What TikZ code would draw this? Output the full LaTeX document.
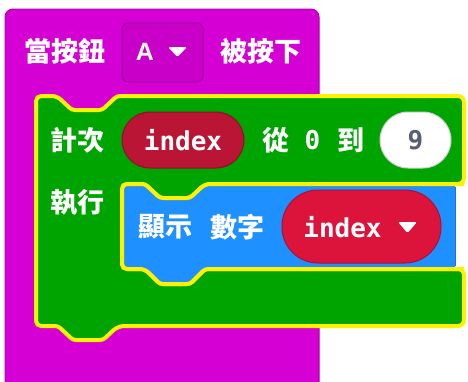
\documentclass[tikz,border=0pt]{standalone}
\usepackage{fontspec}
\newfontfamily\cjk{Noto Sans CJK TC}
\newfontfamily\mono{DejaVu Sans Mono}
\newfontfamily\lsans{Liberation Sans}
\definecolor{magblk}{HTML}{D400D4}
\definecolor{magedge}{HTML}{B000B0}
\definecolor{ddfill}{HTML}{C800C8}
\definecolor{ddedge}{HTML}{A300A3}
\definecolor{grnblk}{HTML}{00A400}
\definecolor{hilite}{HTML}{FFF200}
\definecolor{blublk}{HTML}{1E90FF}
\definecolor{bluedge}{HTML}{1877D6}
\definecolor{varred}{HTML}{BA1535}
\definecolor{varedge}{HTML}{8F1028}
\definecolor{crim}{HTML}{DC143C}
\definecolor{crimedge}{HTML}{B0102F}
\definecolor{numtxt}{HTML}{575E75}
\begin{document}
\begin{tikzpicture}[x=1pt,y=-1pt,
  cjklbl/.style={text=white,inner sep=0pt,font=\cjk\bfseries\fontsize{27}{27}\selectfont},
  monolbl/.style={text=white,inner sep=0pt,font=\mono\bfseries\fontsize{26}{26}\selectfont},
  pillbox/.style={draw, line width=1pt, inner sep=0pt},
  hl/.style={draw=hilite, line width=4pt}]
\useasboundingbox (0,0) rectangle (468,381);
\clip (0,0) rectangle (468,381);
% hat block
\filldraw[fill=magblk, draw=magedge, line width=1pt, rounded corners=8pt]
  (5,400) -- (5,9) -- (319,9) -- (319,400);
\node[pillbox, draw=ddedge, fill=ddfill, rounded corners=6pt,
  minimum width=81pt, minimum height=59pt] (dd) at (162.5,52.5) {};
\node[text=white, inner sep=0pt, font=\lsans\bfseries\fontsize{25}{25}\selectfont] (ddA) at (145,52) {A};
\fill[white, rounded corners=1.5pt] (168,47) -- (187,47) -- (177.5,57) -- cycle;
\node[cjklbl] (when) at (64.5,51) {當按鈕};
\node[cjklbl] (pressed) at (260.5,51) {被按下};
% loop block
\path[fill=grnblk, hl, rounded corners=5pt] (36,200) -- (36,96) -- (57,96)
  [rounded corners=3pt] -- (72,110) -- (102,110) -- (117,96)
  [rounded corners=6pt] -- (464,96) -- (464,184) -- (205,184)
  [rounded corners=3pt] -- (190,198) -- (160,198) -- (145,184)
  [rounded corners=5pt] -- (122,184) -- (122,269) -- (145,269)
  [rounded corners=3pt] -- (160,284) -- (190,284) -- (205,269)
  [rounded corners=6pt] -- (464,269) -- (464,326) -- (118,326)
  [rounded corners=3pt] -- (103,340) -- (73,340) -- (58,326)
  [rounded corners=5pt] -- (36,326) -- cycle;
% show number block
\fill[blublk, rounded corners=5pt] (122,230) -- (122,184) -- (145,184)
  [rounded corners=3pt] -- (160,198) -- (190,198) -- (205,184)
  [rounded corners=2pt] -- (455,184) -- (455,269) -- (205,269)
  [rounded corners=3pt] -- (190,284) -- (160,284) -- (145,269)
  [rounded corners=5pt] -- (122,269) -- cycle;
\draw[hl, rounded corners=5pt] (464,184) -- (205,184)
  [rounded corners=3pt] -- (190,198) -- (160,198) -- (145,184)
  [rounded corners=5pt] -- (122,184) -- (122,269) -- (145,269)
  [rounded corners=3pt] -- (160,284) -- (190,284) -- (205,269)
  [rounded corners=5pt] -- (464,269);
\draw[bluedge, line width=1pt] (455,187) -- (455,266);
% loop texts
\node[cjklbl] (count) at (77.5,140) {計次};
\node[pillbox, draw=varedge, fill=varred, rounded corners=28pt,
  minimum width=122pt, minimum height=56pt] (var1) at (183,140) {};
\node[monolbl] (var1txt) at (183,140) {index};
\node[cjklbl] (from) at (276,140) {從};
\node[monolbl] (zero) at (312.5,140) {0};
\node[cjklbl] (to) at (350.5,140) {到};
\node[pillbox, draw=black!20, fill=white, rounded corners=28pt,
  minimum width=71pt, minimum height=56pt] (num) at (415.5,140) {};
\node[monolbl, text=numtxt] (numtxt) at (415.5,140) {9};
\node[cjklbl] (do) at (77.5,203) {執行};
\node[cjklbl] (show) at (165.5,227) {顯示};
\node[cjklbl] (number) at (237.5,227) {數字};
\node[pillbox, draw=crimedge, fill=crim, rounded corners=36pt,
  minimum width=159pt, minimum height=73pt] (var2) at (361.5,226.5) {};
\node[monolbl] (var2txt) at (342.5,227) {index};
\fill[white, rounded corners=1.5pt] (398,222) -- (417,222) -- (407.5,233) -- cycle;
\end{tikzpicture}
\end{document}
